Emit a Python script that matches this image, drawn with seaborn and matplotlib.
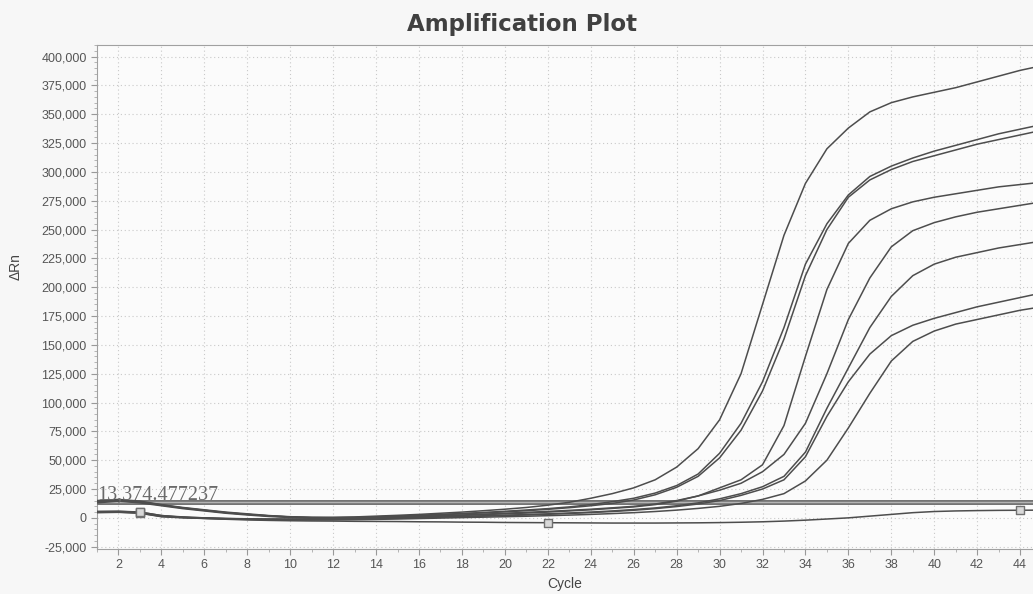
import pandas as pd
import seaborn as sns
from matplotlib import pyplot as plt
from matplotlib.ticker import FuncFormatter, MultipleLocator

THRESHOLD = 13374.477237
cycles = list(range(1, 46))

# delta Rn per well (cycles 1..45)
well_a = [15000, 16000, 14500, 11500, 9000, 7000, 5000, 3500, 2000, 1000,
          500, 500, 800, 1500, 2200, 3000, 4000, 5000, 6200, 7500,
          9000, 11000, 13500, 17000, 21000, 26000, 33000, 44000, 60000, 85000,
          125000, 185000, 245000, 290000, 320000, 338000, 352000, 360000, 365000, 369000,
          373000, 378000, 383000, 388000, 392000]
well_b = [14000, 15000, 13500, 11000, 8500, 6500, 4500, 3000, 1800, 800,
          300, 200, 400, 900, 1500, 2200, 3000, 3800, 4700, 5700,
          6800, 8000, 9500, 11500, 14000, 17000, 21500, 28000, 38000, 56000,
          82000, 118000, 165000, 220000, 255000, 280000, 296000, 305000, 312000, 318000,
          323000, 328000, 333000, 337000, 341000]
well_c = [14500, 15500, 14000, 11200, 8700, 6600, 4600, 3000, 1700, 700,
          200, 0, 200, 700, 1300, 2000, 2700, 3500, 4300, 5200,
          6200, 7400, 8800, 10500, 12500, 15500, 20000, 26500, 36000, 52000,
          76000, 110000, 155000, 210000, 250000, 278000, 293000, 302000, 309000, 314000,
          319000, 324000, 328000, 332000, 336000]
well_d = [5000, 5200, 4500, 1500, 500, 0, -500, -800, -1000, -1000,
          -1000, -800, -500, 0, 500, 1000, 1600, 2200, 2800, 3500,
          4200, 5000, 6000, 7000, 8200, 9500, 11500, 14500, 19000, 26000,
          33000, 46000, 80000, 140000, 198000, 238000, 258000, 268000, 274000, 278000,
          281000, 284000, 287000, 289000, 291000]
well_e = [13000, 14500, 13000, 10500, 8000, 6000, 4000, 2500, 1200, 300,
          -300, -500, -300, 200, 700, 1300, 1900, 2500, 3200, 4000,
          4800, 5600, 6500, 7500, 8700, 10000, 12000, 15000, 19000, 24000,
          30000, 40000, 55000, 82000, 125000, 172000, 208000, 235000, 249000, 256000,
          261000, 265000, 268000, 271000, 274000]
well_f = [4500, 4800, 4000, 1000, 0, -500, -1000, -1300, -1500, -1500,
          -1500, -1300, -1000, -600, -200, 300, 800, 1300, 1800, 2300,
          2900, 3500, 4200, 5000, 6000, 7200, 8600, 10500, 13000, 16500,
          21000, 27000, 36000, 57000, 95000, 130000, 165000, 192000, 210000, 220000,
          226000, 230000, 234000, 237000, 240000]
well_g = [5500, 5500, 5000, 2000, 800, 0, -600, -1000, -1200, -1300,
          -1300, -1200, -1000, -700, -300, 200, 600, 1000, 1500, 2000,
          2500, 3100, 3800, 4600, 5500, 6600, 8000, 9800, 12000, 15000,
          19500, 25000, 33000, 53000, 88000, 118000, 142000, 158000, 167000, 173000,
          178000, 183000, 187000, 191000, 195000]
well_h = [4800, 5000, 4200, 1200, 300, -300, -800, -1200, -1500, -1700,
          -1800, -1800, -1600, -1300, -1000, -600, -200, 200, 600, 1000,
          1400, 1900, 2400, 3000, 3700, 4500, 5500, 6700, 8200, 10000,
          12500, 16000, 21000, 32000, 50000, 78000, 108000, 136000, 153000, 162000,
          168000, 172000, 176000, 180000, 183000]
well_ntc = [5500, 5800, 5000, 2000, 500, -500, -1200, -1800, -2200, -2500,
            -2700, -2800, -3000, -3100, -3200, -3400, -3500, -3700, -3800, -4000,
            -4100, -4200, -4300, -4400, -4500, -4500, -4500, -4400, -4300, -4100,
            -3800, -3400, -2800, -2000, -1000, 0, 1500, 3000, 4500, 5500,
            6000, 6300, 6500, 6600, 6700]

wells = {'A': well_a, 'B': well_b, 'C': well_c, 'D': well_d, 'E': well_e,
         'F': well_f, 'G': well_g, 'H': well_h, 'NTC': well_ntc}
df = pd.concat([pd.DataFrame({'cycle': cycles, 'drn': v, 'well': k})
                for k, v in wells.items()], ignore_index=True)

# baseline start / end markers
marks = df[((df.well == 'NTC') & df.cycle.isin([3, 22, 44])) |
           (df.well.isin(['D', 'G']) & (df.cycle == 3))]

sns.set_style('white')
plt.rcParams['font.family'] = ['Liberation Sans', 'DejaVu Sans']

fig, ax = plt.subplots(figsize=(10.33, 5.94), dpi=100)
fig.patch.set_facecolor('#f7f7f7')
ax.set_facecolor('#fbfbfb')
fig.subplots_adjust(left=97 / 1033, right=1.0, top=1 - 45 / 594, bottom=1 - 549 / 594)

ax.axhline(THRESHOLD, color='#747474', lw=3.6, zorder=3)
ax.axhline(THRESHOLD, color='#b4b4b4', lw=1.0, zorder=3)

sns.lineplot(data=df, x='cycle', y='drn', units='well', estimator=None,
             color='#4d4d4d', lw=1.1, ax=ax, zorder=4)
sns.scatterplot(data=marks, x='cycle', y='drn', marker='s', s=40,
                facecolor='#d8d8d8', edgecolor='#707070', linewidth=1.0, ax=ax, zorder=5)

ax.text(1.0, THRESHOLD + 2800, f'{THRESHOLD:,.6f}', family='Liberation Serif',
        fontsize=14.5, color='#6a6a6a', ha='left', va='baseline', zorder=6)

ax.set_xlim(1, 44.6)
ax.set_ylim(-27000, 410000)
ax.xaxis.set_major_locator(MultipleLocator(2))
ax.xaxis.set_minor_locator(MultipleLocator(1))
ax.yaxis.set_major_locator(MultipleLocator(25000))
ax.yaxis.set_minor_locator(MultipleLocator(5000))
ax.yaxis.set_major_formatter(FuncFormatter(lambda v, _: f'{v:,.0f}'))
ax.set_xticks(range(2, 45, 2))

ax.grid(True, which='major', color='#c9c9c9', lw=0.8, linestyle=(0, (1, 2.5)))
ax.tick_params(which='major', length=4, width=0.8, color='#999999',
               labelsize=9, labelcolor='#555555', left=True, bottom=True)
ax.tick_params(which='minor', length=2, width=0.6, color='#aaaaaa', left=True, bottom=True)
for side in ['left', 'bottom', 'top']:
    ax.spines[side].set_color('#a0a0a0')
ax.spines['right'].set_visible(False)

ax.set_xlabel('Cycle', fontsize=10, color='#444444', labelpad=4)
ax.set_ylabel('ΔRn', fontsize=10, color='#444444')
ax.yaxis.set_label_coords(-0.079, 0.56)

fig.text(522 / 1033, 1 - 25 / 594, 'Amplification Plot', family='DejaVu Sans',
         fontweight='bold', fontsize=16.5, color='#404040', ha='center', va='center')

plt.savefig('out.png', dpi=100, facecolor=fig.get_facecolor())
